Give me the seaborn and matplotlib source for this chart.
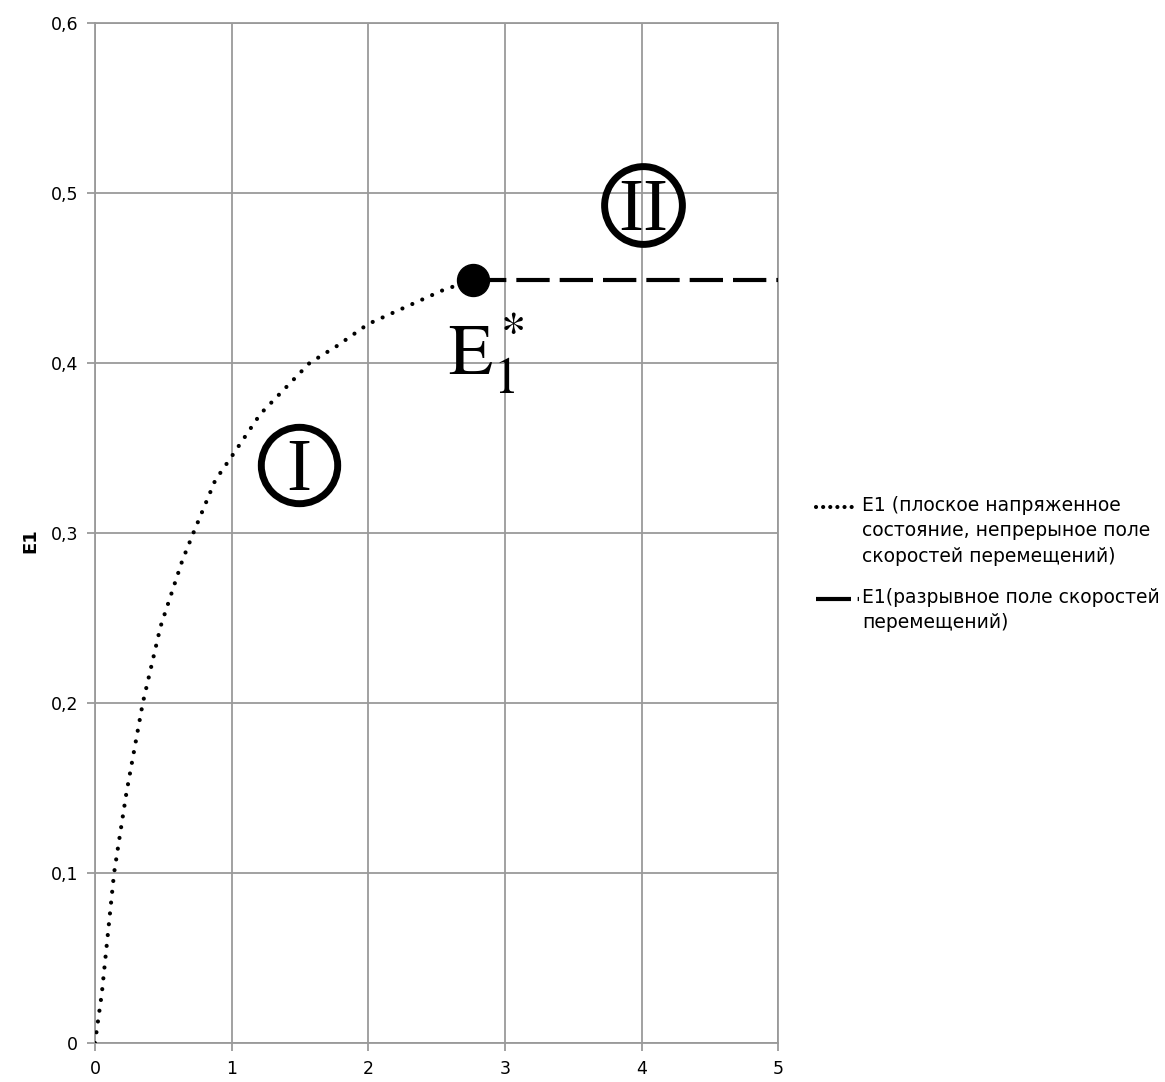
import matplotlib
matplotlib.use("Agg")
import matplotlib.pyplot as plt
from matplotlib.lines import Line2D
from matplotlib.ticker import FuncFormatter, MultipleLocator
import seaborn as sns
import pandas as pd

# Curve E1 for the plane-stress state (continuous velocity field)
x_cont = [0, 0.05, 0.14, 0.23, 0.35, 0.48, 0.64, 0.72, 0.88, 1.0, 1.21,
          1.57, 1.77, 2.0, 2.55, 2.77]
y_cont = [0, 0.029, 0.1, 0.147, 0.2, 0.245, 0.284, 0.3, 0.331, 0.345, 0.37,
          0.4, 0.41, 0.423, 0.443, 0.449]

# E1 for the discontinuous velocity field (constant beyond the critical point)
x_disc = [2.77, 5.0]
y_disc = [0.449, 0.449]

# Critical point E1*
x_crit = [2.77]
y_crit = [0.449]

label_cont = "E1 (плоское напряженное\nсостояние, непрерыное поле\nскоростей перемещений)"
label_disc = "E1(разрывное поле скоростей\nперемещений)"

sns.set_theme(style="white")
plt.rcParams["font.family"] = ["DejaVu Sans"]
plt.rcParams["text.color"] = "black"
plt.rcParams["axes.labelcolor"] = "black"
plt.rcParams["mathtext.fontset"] = "stix"

fig = plt.figure(figsize=(11.65, 10.82), dpi=100)
ax = fig.add_axes([0.0815, 0.036, 0.5865, 0.9427])

df_cont = pd.DataFrame({"x": x_cont, "y": y_cont})
df_disc = pd.DataFrame({"x": x_disc, "y": y_disc})

sns.lineplot(data=df_cont, x="x", y="y", ax=ax, color="black", lw=3.0,
             sort=False, estimator=None, zorder=3)
ax.lines[-1].set_dashes((0.01, 2.6))
ax.lines[-1].set_dash_capstyle("round")

sns.lineplot(data=df_disc, x="x", y="y", ax=ax, color="black", lw=3.0,
             sort=False, estimator=None, zorder=3)
ax.lines[-1].set_dashes((8, 2.4))

ax.plot(x_crit, y_crit, "o", color="black", markersize=23, zorder=4)

# Region markers
serif = "Liberation Serif"
ax.plot([1.49], [0.34], "o", ms=55, mfc="none", mec="black", mew=5, zorder=4)
ax.text(1.49, 0.34 - 0.0145, "I", fontsize=54, family=serif,
        ha="center", va="baseline", zorder=5)
ax.plot([4.01], [0.493], "o", ms=56, mfc="none", mec="black", mew=5, zorder=4)
ax.text(4.01, 0.493 - 0.0145, "II", fontsize=54, family=serif,
        ha="center", va="baseline", zorder=5)

ax.text(2.86, 0.405, r"$\mathrm{E}_1^*$", fontsize=52,
        ha="center", va="center", zorder=5)

ax.set_xlim(0, 5)
ax.set_ylim(0, 0.6)
ax.xaxis.set_major_locator(MultipleLocator(1))
ax.yaxis.set_major_locator(MultipleLocator(0.1))
ax.yaxis.set_major_formatter(FuncFormatter(
    lambda v, p: f"{v:.1f}".replace(".", ",") if v > 0 else "0"))
ax.grid(True, color="#9a9a9a", lw=1.3)
for s in ax.spines.values():
    s.set_color("#9a9a9a")
    s.set_linewidth(1.3)
ax.tick_params(axis="both", which="major", length=6, width=1.3, color="#9a9a9a",
               labelsize=12.5, labelcolor="black", direction="out", pad=6)
ax.tick_params(axis="x", bottom=True)
ax.tick_params(axis="y", left=True)
ax.set_xlabel("")
ax.set_ylabel("E1", fontsize=13, fontweight="bold")
ax.yaxis.set_label_coords(-0.081, 0.493)

# Legend drawn as figure-level entries
def leg_line(y, x1, **kw):
    fig.add_artist(Line2D([0.700, x1], [y, y], transform=fig.transFigure,
                          color="black", **kw))

leg_line(1 - 507 / 1082, 0.732, lw=3.0, dashes=(0.01, 1.7), dash_capstyle="round")
leg_line(1 - 599 / 1082, 0.737, lw=3.0, dashes=(8.4, 1.6), dash_capstyle="butt")
fig.text(0.740, 1 - 496 / 1082, label_cont, fontsize=13.5, va="top",
         linespacing=1.42)
fig.text(0.740, 1 - 588 / 1082, label_disc, fontsize=13.5, va="top",
         linespacing=1.42)

fig.savefig("out.png", dpi=100)
